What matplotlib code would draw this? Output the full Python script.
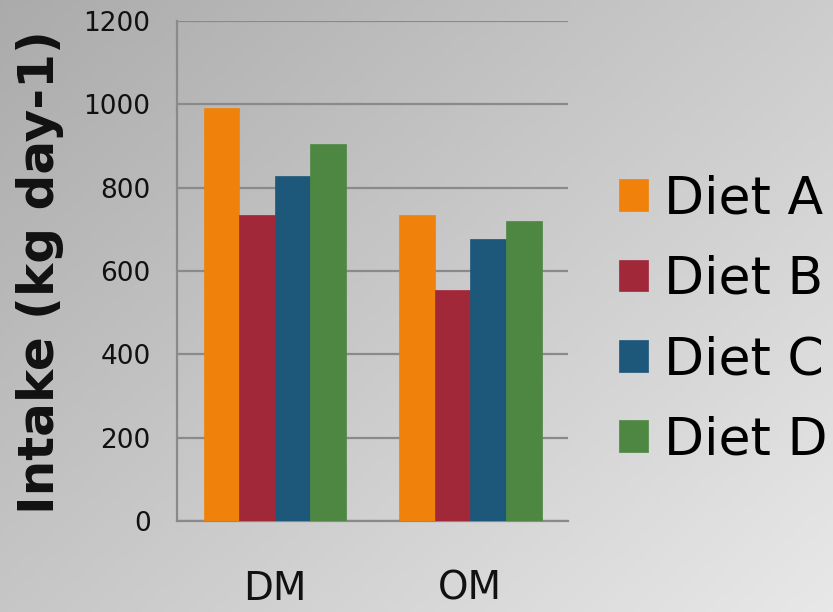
import numpy as np
import matplotlib
matplotlib.use("Agg")
import matplotlib.pyplot as plt

categories = ["DM", "OM"]
diets = ["Diet A", "Diet B", "Diet C", "Diet D"]
diet_a = [991, 734]
diet_b = [734, 554]
diet_c = [828, 677]
diet_d = [905, 720]
yticks = [0, 200, 400, 600, 800, 1000, 1200]

series = [diet_a, diet_b, diet_c, diet_d]
colors = ["#F0820C", "#A02838", "#1D577A", "#4E8742"]

fig = plt.figure(figsize=(8.33, 6.12), dpi=100)

# diagonal grey background
bg = fig.add_axes([0, 0, 1, 1], zorder=-10)
h, w = 200, 272
yy, xx = np.mgrid[0:1:h * 1j, 0:1:w * 1j]
grad = 0.67 + 0.24 * (0.55 * xx + 0.45 * yy)
bg.imshow(np.dstack([grad] * 3), aspect="auto", extent=[0, 1, 0, 1], origin="upper")
bg.set_axis_off()

ax = fig.add_axes([0.2125, 0.1487, 0.4695, 0.817])
ax.patch.set_alpha(0)

x = np.arange(len(categories))
width = 0.182
offsets = (np.arange(len(diets)) - 1.5) * width
for vals, off, col, name in zip(series, offsets, colors, diets):
    ax.bar(x + off, vals, width=width, color=col, edgecolor=col, linewidth=0.5,
           label=name, zorder=3)

ax.set_xlim(-0.5, 1.5)
ax.set_ylim(0, 1200)
ax.set_yticks(yticks)
ax.set_yticklabels([str(t) for t in yticks], fontsize=19, color="#111111")
ax.set_xticks(x)
ax.set_xticklabels(categories, fontsize=28, color="#111111")
ax.tick_params(axis="y", length=0, pad=19)
ax.tick_params(axis="x", length=0, pad=35)
ax.grid(axis="y", color="#8a8a8a", linewidth=1.6, zorder=1)
for s in ["top", "right"]:
    ax.spines[s].set_visible(False)
for s in ["left", "bottom"]:
    ax.spines[s].set_color("#8a8a8a")
    ax.spines[s].set_linewidth(1.6)

fig.text(0.048, 0.555, "Intake (kg day-1)", rotation=90, fontsize=36,
         fontweight="bold", ha="center", va="center", color="#111111")

leg = ax.legend(loc="center left", bbox_to_anchor=(1.13, 0.402), frameon=False,
                fontsize=37.5, handlelength=0.56, handleheight=0.56,
                handletextpad=0.3, labelspacing=0.58, borderaxespad=0,
                borderpad=0)

fig.savefig("out.png", dpi=100)
